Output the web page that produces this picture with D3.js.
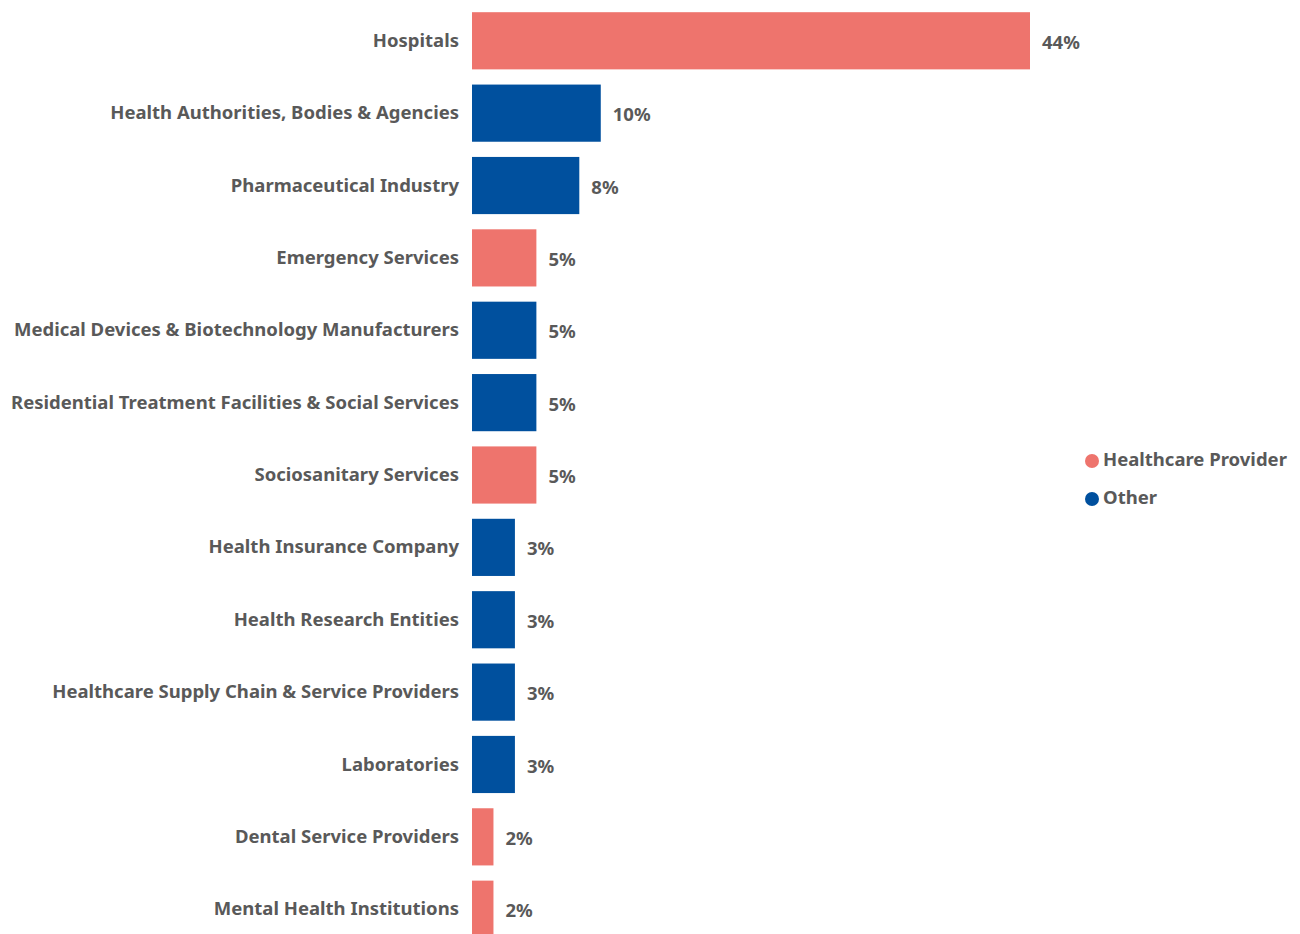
<!DOCTYPE html>
<html>
<head>
<meta charset="utf-8">
<script src="https://cdn.jsdelivr.net/npm/d3@7"></script>
<style>
  body { margin: 0; background: #fff; }
  svg text { font-family: "Noto Sans", "Open Sans", sans-serif; font-weight: 700; fill: #595959; }
</style>
</head>
<body>
<div id="chart"></div>
<script>
  'use strict';

  // respondent counts per organisation type (shown as share of total)
  const categories = [
    "Hospitals",
    "Health Authorities, Bodies & Agencies",
    "Pharmaceutical Industry",
    "Emergency Services",
    "Medical Devices & Biotechnology Manufacturers",
    "Residential Treatment Facilities & Social Services",
    "Sociosanitary Services",
    "Health Insurance Company",
    "Health Research Entities",
    "Healthcare Supply Chain & Service Providers",
    "Laboratories",
    "Dental Service Providers",
    "Mental Health Institutions"
  ];
  const counts = [26, 6, 5, 3, 3, 3, 3, 2, 2, 2, 2, 1, 1];
  const groups = [
    "Healthcare Provider", "Other", "Other", "Healthcare Provider", "Other", "Other",
    "Healthcare Provider", "Other", "Other", "Other", "Other",
    "Healthcare Provider", "Healthcare Provider"
  ];
  const legendLabels = ["Healthcare Provider", "Other"];

  const size = { width: 1300, height: 934 };
  const plotLeft = 472;
  const fontSize = "18.5px";

  const total = d3.sum(counts);
  const data = categories.map((c, i) => ({ name: c, value: counts[i], group: groups[i] }));

  const color = d3.scaleOrdinal()
    .domain(legendLabels)
    .range(["#EE746D", "#00509E"]);

  const xScale = d3.scaleLinear()
    .domain([0, 26])
    .range([plotLeft, 1030]);

  const yScale = d3.scaleBand()
    .domain(categories)
    .range([-3, 953])
    .padding(0.21);

  const pct = d3.format(".0%");

  const svg = d3.select("#chart").append("svg")
    .attr("width", size.width)
    .attr("height", size.height);

  svg.append("g")
    .selectAll("rect")
    .data(data)
    .join("rect")
      .attr("x", xScale(0))
      .attr("y", d => yScale(d.name))
      .attr("width", d => xScale(d.value) - xScale(0))
      .attr("height", yScale.bandwidth())
      .attr("fill", d => color(d.group));

  // category labels, right aligned against the bars
  svg.append("g")
    .selectAll("text")
    .data(data)
    .join("text")
      .attr("x", plotLeft - 13)
      .attr("y", d => yScale(d.name) + yScale.bandwidth() / 2 + 1)
      .attr("text-anchor", "end")
      .attr("dominant-baseline", "middle")
      .style("font-size", fontSize)
      .text(d => d.name);

  // value labels
  svg.append("g")
    .selectAll("text")
    .data(data)
    .join("text")
      .attr("x", d => xScale(d.value) + 12)
      .attr("y", d => yScale(d.name) + yScale.bandwidth() / 2 + 3)
      .attr("dominant-baseline", "middle")
      .style("font-size", fontSize)
      .text(d => pct(d.value / total));

  // legend
  const legend = svg.append("g")
    .attr("transform", "translate(1092,461)");

  const item = legend.selectAll("g")
    .data(legendLabels)
    .join("g")
      .attr("transform", (d, i) => "translate(0," + (i * 38) + ")");

  item.append("circle")
    .attr("r", 7)
    .attr("fill", d => color(d));

  item.append("text")
    .attr("x", 11)
    .attr("dominant-baseline", "middle")
    .style("font-size", fontSize)
    .text(d => d);
</script>
</body>
</html>
